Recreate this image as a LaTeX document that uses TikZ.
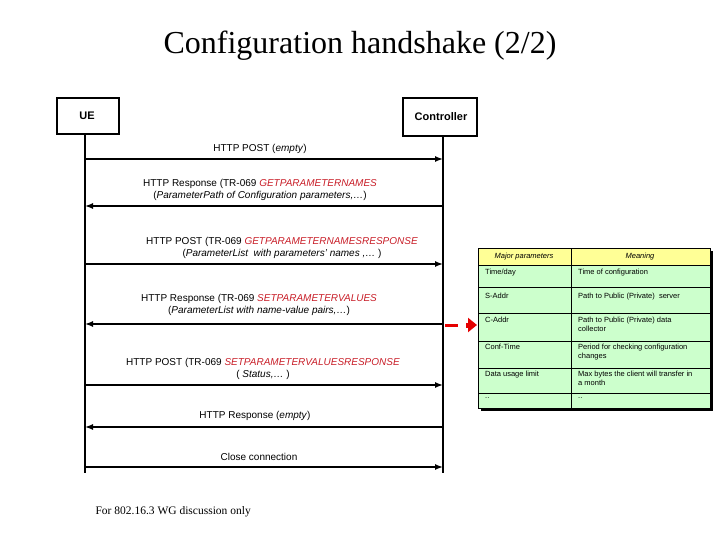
\documentclass[tikz,border=0pt]{standalone}
\usepackage{fontspec}
\setmainfont{Liberation Sans}
\newfontfamily\tms{Liberation Serif}
\usetikzlibrary{arrows.meta}
\definecolor{tr}{RGB}{200,30,40}
\definecolor{hdr}{RGB}{255,255,150}
\definecolor{cellg}{RGB}{204,255,204}
\begin{document}
\begin{tikzpicture}[x=1pt,y=-1pt,
  actor/.style={draw,line width=1.6pt,fill=white,inner sep=0pt},
  life/.style={line width=1.4pt},
  msg/.style={line width=1.4pt,-{Latex[length=8pt,width=6pt]}},
  lbl/.style={font=\fontsize{10}{12.5}\selectfont,align=center,inner sep=0pt},
  cell/.style={font=\fontsize{7.5}{9}\selectfont,anchor=north west,align=left,inner sep=0pt}]
\useasboundingbox (0,0) rectangle (720,540);
\node[font=\tms\fontsize{32}{34}\selectfont] (title) at (360,46) {Configuration handshake (2/2)};
% actors
\node[actor,minimum width=62pt,minimum height=36pt] (ue) at (88,116) {};
\node[font=\bfseries\fontsize{11}{12}\selectfont] (uet) at (87,116) {UE};
\node[actor,minimum width=74pt,minimum height=38pt] (ct) at (440,117) {};
\node[font=\bfseries\fontsize{11}{12}\selectfont] (ctt) at (441,117) {Controller};
\coordinate (ueT) at (85,134); \coordinate (ueB) at (85,473);
\coordinate (ctT) at (443,136); \coordinate (ctB) at (443,473);
\draw[life] (ueT) -- (ueB);
\draw[life] (ctT) -- (ctB);
% messages
\foreach \n/\y in {1/159,2/206,3/264,4/324,5/385,6/427,7/467}{
  \coordinate (u\n) at (85,\y); \coordinate (c\n) at (443,\y);}
\draw[msg] (u1) -- (c1);
\draw[msg] (c2) -- (u2);
\draw[msg] (u3) -- (c3);
\draw[msg] (c4) -- (u4);
\draw[msg] (u5) -- (c5);
\draw[msg] (c6) -- (u6);
\draw[msg] (u7) -- (c7);
\node[lbl] (l1) at (260,149) {HTTP POST (\textit{empty})};
\node[lbl] (l2) at (260,190) {HTTP Response (TR-069 \textcolor{tr}{\textit{GETPARAMETERNAMES}}\\(\textit{ParameterPath of Configuration parameters,…})};
\node[lbl] (l3) at (282,248) {HTTP POST (TR-069 \textcolor{tr}{\textit{GETPARAMETERNAMESRESPONSE}}\\(\textit{ParameterList\ \ with parameters' names ,… })};
\node[lbl] (l4) at (259,305) {HTTP Response (TR-069 \textcolor{tr}{\textit{SETPARAMETERVALUES}}\\(\textit{ParameterList with name-value pairs,…})};
\node[lbl] (l5) at (263,369) {HTTP POST (TR-069 \textcolor{tr}{\textit{SETPARAMETERVALUESRESPONSE}}\\( \textit{Status,… })};
\node[lbl] (l6) at (255,416) {HTTP Response (\textit{empty})};
\node[lbl] (l7) at (259,457) {Close connection};
% red arrow
\coordinate (ra) at (445,325); \coordinate (rb) at (458,325);
\coordinate (rc) at (466,325); \coordinate (rd) at (477,325);
\draw[red!90!black,line width=3pt] (ra) -- (rb);
\draw[red!90!black,line width=5pt,-{Triangle[length=9pt,width=14pt]}] (rc) -- (rd);
% table
\fill[black] (481,251) rectangle (713,411);
\fill[cellg] (478,248) rectangle (710,408);
\fill[hdr] (478,248) rectangle (710,265);
\draw[line width=0.8pt] (478,248) rectangle (710,408);
\foreach \y in {265,287,313,341,368,393}{\draw[line width=0.8pt] (478,\y) -- (710,\y);}
\draw[line width=0.8pt] (571,248) -- (571,408);
\node[font=\itshape\fontsize{7.5}{9}\selectfont] (h1) at (524,256.5) {Major parameters};
\node[font=\itshape\fontsize{7.5}{9}\selectfont] (h2) at (640,256.5) {Meaning};
\foreach \y/\a/\b in {269/{Time/day}/{Time of configuration},
  293/{S-Addr}/{Path to Public (Private)\ \ server},
  317/{C-Addr}/{Path to Public (Private) data\\collector},
  344/{Conf-Time}/{Period for checking configuration\\changes},
  371/{Data usage limit}/{Max bytes the client will transfer in\\a month},
  397/{..}/{..}}{
  \node[cell] at (485,\y) {\a};
  \node[cell] at (578,\y) {\b};}
\node[font=\tms\fontsize{11.5}{12}\selectfont,anchor=west] (foot) at (92,512) {For 802.16.3 WG discussion only};
\end{tikzpicture}
\end{document}
